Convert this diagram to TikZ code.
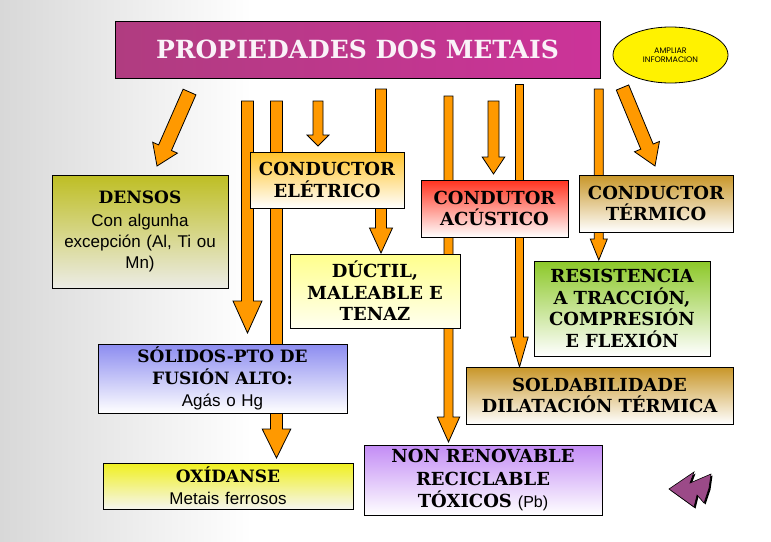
\documentclass[tikz,border=0pt]{standalone}
\usepackage{fontspec}
\setmainfont{Liberation Sans}
\newfontfamily\decofont{DejaVu Serif}
\newfontfamily\roundfont{Poppins}
\usetikzlibrary{calc,shapes.geometric}
\definecolor{arrorange}{RGB}{255,153,0}
\definecolor{bggray}{RGB}{216,216,216}
\definecolor{titleL}{RGB}{176,60,128}
\definecolor{titleR}{RGB}{204,51,153}
\definecolor{titletext}{RGB}{250,242,248}
\definecolor{densT}{RGB}{190,190,35}
\definecolor{densB}{RGB}{236,236,230}
\definecolor{elecT}{RGB}{255,195,40}
\definecolor{acusT}{RGB}{255,50,30}
\definecolor{termT}{RGB}{200,150,40}
\definecolor{ductT}{RGB}{255,255,140}
\definecolor{ductB}{RGB}{255,255,240}
\definecolor{resT}{RGB}{140,200,40}
\definecolor{solT}{RGB}{140,140,240}
\definecolor{soldaT}{RGB}{200,150,40}
\definecolor{oxT}{RGB}{240,240,30}
\definecolor{oxB}{RGB}{245,245,240}
\definecolor{nonT}{RGB}{195,140,245}
\definecolor{iconpurple}{RGB}{155,74,136}
\newcommand\decot[1]{{\decofont\bfseries #1}}
\newcommand\blockarr[5]{%
  \coordinate (hb) at ($(#2)!#5pt!(#1)$);
  \filldraw[barrow] ($(#1)!#3pt!90:(#2)$) -- ($(hb)!#3pt!90:(#2)$) -- ($(hb)!#4pt!90:(#2)$) -- (#2)
    -- ($(hb)!#4pt!-90:(#2)$) -- ($(hb)!#3pt!-90:(#2)$) -- ($(#1)!#3pt!-90:(#2)$) -- cycle;}
\tikzset{
  barrow/.style={fill=arrorange, draw=black, line width=0.8pt, line join=miter},
  box/.style={draw=black, line width=0.9pt, inner sep=0pt, align=center},
  bodyfont/.style={font=\fontsize{17}{22}\selectfont},
  decofnt/.style={font=\decofont\bfseries\fontsize{18}{21.5}\selectfont},
}
\begin{document}
\begin{tikzpicture}[x=1pt,y=-1pt]
\useasboundingbox (0,0) rectangle (771,541);
\fill[white] (0,0) rectangle (771,541);
\shade[left color=bggray, right color=white] (0,0) rectangle (252,541);

% arrow end points
\coordinate (a1t) at (189.5,92);  \coordinate (a1h) at (157,166);
\coordinate (a2t) at (247.5,101); \coordinate (a2h) at (247.5,333);
\coordinate (a3t) at (276.5,101); \coordinate (a3h) at (276.5,458);
\coordinate (a4t) at (318,101);   \coordinate (a4h) at (318,146);
\coordinate (a5t) at (381,89);    \coordinate (a5h) at (381,253);
\coordinate (a6t) at (448.5,96);  \coordinate (a6h) at (448.5,442);
\coordinate (a7t) at (493.5,101); \coordinate (a7h) at (493.5,174);
\coordinate (a8t) at (519.5,84.5);\coordinate (a8h) at (519.5,367);
\coordinate (a9t) at (598.8,89);  \coordinate (a9h) at (598.8,260);
\coordinate (a10t) at (622.5,87.5); \coordinate (a10h) at (655,166);

\blockarr{a1t}{a1h}{7}{13.5}{20}
\blockarr{a2t}{a2h}{6}{14.5}{32}
\blockarr{a3t}{a3h}{6}{14.3}{29}
\blockarr{a4t}{a4h}{5}{11}{11}
\blockarr{a5t}{a5h}{5.5}{11.5}{25}
\blockarr{a6t}{a6h}{4.5}{11.2}{25}
\blockarr{a7t}{a7h}{5.5}{11.3}{17}
\blockarr{a8t}{a8h}{4}{8.7}{30}
\blockarr{a9t}{a9h}{4.5}{8.5}{21}
\blockarr{a10t}{a10h}{6.7}{13.5}{21}

% title
\node[box, left color=titleL, right color=titleR, minimum width=485pt, minimum height=57pt,
  text=titletext, font=\decofont\bfseries\fontsize{25}{28}\selectfont] (title) at (357.5,49.5) {PROPIEDADES DOS METAIS};

% ellipse
\node[ellipse, draw=black, line width=0.8pt, fill=yellow, minimum width=115pt, minimum height=56pt,
  inner sep=0pt, align=center, font=\roundfont\fontsize{8}{9.5}\selectfont] (ampliar) at (670.5,55) {AMPLIAR\\INFORMACION};

% boxes
\node[box, top color=densT, bottom color=densB, minimum width=176pt, minimum height=113pt,
  text width=170pt, font=\fontsize{17}{21}\selectfont] (densos) at (140,231.5)
  {\decot{DENSOS}\\[2pt]Con algunha\\excepción (Al, Ti ou\\Mn)};
\node[box, top color=elecT, bottom color=white, minimum width=154pt, minimum height=56pt,
  text width=150pt, decofnt] (elec) at (327,180) {CONDUCTOR\\ELÉTRICO};
\node[box, top color=acusT, bottom color=white, minimum width=147pt, minimum height=57pt,
  text width=143pt, decofnt] (acus) at (494.5,208.5) {CONDUTOR\\ACÚSTICO};
\node[box, top color=termT, bottom color=white, minimum width=154pt, minimum height=57pt,
  text width=150pt, decofnt] (term) at (656,203.5) {CONDUCTOR\\TÉRMICO};
\node[box, top color=ductT, bottom color=ductB, minimum width=170pt, minimum height=74pt,
  text width=166pt, decofnt] (ductil) at (375,291) {DÚCTIL,\\MALEABLE E\\TENAZ};
\node[box, top color=resT, bottom color=white, minimum width=176pt, minimum height=95pt,
  text width=172pt, decofnt] (resist) at (622,308.5) {RESISTENCIA\\A TRACCIÓN,\\COMPRESIÓN\\E FLEXIÓN};
\node[box, top color=solT, bottom color=white, minimum width=249pt, minimum height=69pt,
  text width=245pt, bodyfont] (solid) at (222.5,378.5) {\decot{SÓLIDOS-PTO DE}\\\decot{FUSIÓN ALTO:}\\Agás o Hg};
\node[box, top color=soldaT, bottom color=white, minimum width=267pt, minimum height=57pt,
  text width=263pt, decofnt] (solda) at (599.5,395.5) {SOLDABILIDADE\\DILATACIÓN TÉRMICA};
\node[box, top color=oxT, bottom color=oxB, minimum width=250pt, minimum height=46pt,
  text width=246pt, bodyfont] (oxid) at (228,486) {\decot{OXÍDANSE}\\Metais ferrosos};
\node[box, top color=nonT, bottom color=white, minimum width=238pt, minimum height=70pt,
  text width=234pt, decofnt, font=\decofont\bfseries\fontsize{18}{22.5}\selectfont] (nonren) at (483,480)
  {NON RENOVABLE\\RECICLABLE\\TÓXICOS {\normalfont\fontsize{16}{22.5}\selectfont(Pb)}};

% back icon
\fill[black] ($(0,0)+(1.5,1.5)$) ++(669,489) -- ++(25,-17) -- ++(-4,11) -- ++(21,-9) -- ++(-2,14) -- ++(-5,15) -- ++(-7,-8) -- ++(-3,12) -- cycle;
\filldraw[fill=iconpurple, draw=black, line width=0.6pt] (669,489) -- (694,472) -- (690,483) -- (711,474) -- (709,488) -- (704,503) -- (697,495) -- (694,507) -- cycle;
\end{tikzpicture}
\end{document}
